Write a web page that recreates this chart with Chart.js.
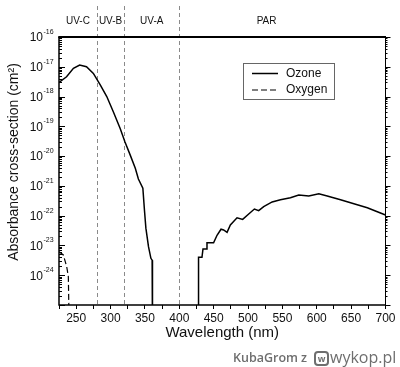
<!DOCTYPE html>
<html lang="en">
<head>
<meta charset="utf-8">
<title>Absorbance cross-section</title>
<script src="https://cdn.jsdelivr.net/npm/chart.js@4.4.1/dist/chart.umd.min.js"></script>
<style>
    html, body { margin: 0; padding: 0; background: #fff; }
    #contenedor { position: relative; width: 400px; height: 367px; }
    #marca span { position: absolute; color: #6e6e6e; font-family: 'Open Sans', 'Liberation Sans', sans-serif; white-space: nowrap; }
    #marca .autor { left: 233px; top: 349px; font-size: 12.5px; font-weight: 600; }
    #marca .z { left: 301px; top: 349px; font-size: 12.5px; font-weight: 600; }
    #marca .logo { left: 314px; top: 351px; width: 11px; height: 11px; border: 2px solid #6e6e6e; border-radius: 4px; font-size: 9px; line-height: 11px; text-align: center; font-weight: 700; }
    #marca .sitio { left: 330px; top: 346px; font-size: 16px; }
</style>
</head>
<body>
<div id="contenedor">
    <canvas id="grafico"></canvas>
    <div id="marca"><span class="autor">KubaGrom</span><span class="z">z</span><span class="logo">w</span><span class="sitio">wykop.pl</span></div>
</div>
<script>
// Datos - sección eficaz de absorción (cm²)
var longitudesOzono = [225, 236, 246, 255, 265, 275, 285, 294.5, 304, 314, 321, 328.5, 336, 340.5, 347, 349.3, 351.4, 355.2, 358.7, 360.5, 361,
    395,
    428, 428, 433, 434.5, 439.3, 440.3, 449.9, 454.9, 460.7, 464.5, 469.5, 474.3, 484, 492.2, 501, 509.3, 515.5, 522.8, 535.1, 547.2,
    561.7, 573.8, 588.4, 603, 615.2, 634.6, 654, 673.5, 688.1, 700];
var valoresOzono = [3.0e-18, 4.6e-18, 8.9e-18, 1.15e-17, 1.0e-17, 6.0e-18, 2.45e-18, 1.0e-18, 3.1e-19, 8.5e-20, 3.0e-20, 1.1e-20, 3.9e-21, 1.7e-21, 8.3e-22, 1.55e-22, 3.8e-23, 9.1e-24, 3.7e-24, 3.2e-24, 1e-26,
    null,
    1e-26, 4.0e-24, 4.0e-24, 7.6e-24, 7.6e-24, 1.23e-23, 1.23e-23, 2.2e-23, 3.5e-23, 3.3e-23, 2.75e-23, 4.9e-23, 8.5e-23, 7.5e-23, 1.14e-22, 1.67e-22, 1.47e-22, 2.0e-22, 2.9e-22, 3.4e-22,
    4.0e-22, 4.9e-22, 4.6e-22, 5.4e-22, 4.6e-22, 3.4e-22, 2.5e-22, 1.85e-22, 1.36e-22, 1.05e-22];

var longitudesOxigeno = [225, 231.3, 236.2, 238.6, 240];
var valoresOxigeno = [6.2e-24, 4.8e-24, 1.95e-24, 8.9e-25, 1e-26];

// Bandas espectrales (nm)
var bordesBandas = [280, 320, 400];
var nombresBandas = ['UV-C', 'UV-B', 'UV-A', 'PAR'];
var centrosBandas = [252.5, 300, 360, 527];

// Etiquetas del eje Y (exponentes de 10)
var exponentesY = [-16, -17, -18, -19, -20, -21, -22, -23, -24];

var FUENTE = "'Liberation Sans', Arial, sans-serif";

function aPuntos(xs, ys) {
    return xs.map(function(x, i) { return { x: x, y: ys[i] }; });
}

// Plugin para marco, ticks del eje log, etiquetas y leyenda
var pluginDecoracion = {
    id: 'decoracion',
    beforeDatasetsDraw: function(chart) {
        var ctx = chart.ctx, a = chart.chartArea, x = chart.scales.x;
        ctx.save();
        ctx.strokeStyle = '#8a8a8a';
        ctx.lineWidth = 1;
        ctx.setLineDash([4, 3]);
        bordesBandas.forEach(function(b) {
            var px = Math.round(x.getPixelForValue(b)) + 0.5;
            ctx.beginPath();
            ctx.moveTo(px, 6);
            ctx.lineTo(px, a.bottom);
            ctx.stroke();
        });
        ctx.restore();
    },
    afterDraw: function(chart) {
        var ctx = chart.ctx, a = chart.chartArea, x = chart.scales.x, y = chart.scales.y;
        ctx.save();
        ctx.strokeStyle = '#000';

        // Marco
        ctx.lineWidth = 2;
        ctx.beginPath(); ctx.moveTo(a.left - 0.75, a.top); ctx.lineTo(a.right + 0.5, a.top); ctx.stroke();
        ctx.lineWidth = 1.5;
        ctx.beginPath(); ctx.moveTo(a.left, a.top); ctx.lineTo(a.left, a.bottom); ctx.lineTo(a.right, a.bottom); ctx.stroke();
        ctx.lineWidth = 1;
        ctx.beginPath(); ctx.moveTo(a.right, a.top); ctx.lineTo(a.right, a.bottom); ctx.stroke();

        // Ticks menores y mayores del eje logarítmico
        ctx.lineWidth = 1;
        for (var e = -25; e <= -16; e++) {
            for (var m = 1; m <= 9; m++) {
                if (e === -16 && m > 1) break;
                var py = Math.round(y.getPixelForValue(m * Math.pow(10, e))) + 0.5;
                var largo = m === 1 ? 6 : 3;
                ctx.beginPath();
                ctx.moveTo(a.left, py); ctx.lineTo(a.left + largo, py);
                ctx.moveTo(a.right, py); ctx.lineTo(a.right + largo - 1, py);
                ctx.stroke();
            }
        }

        // Etiquetas 10^n
        ctx.fillStyle = '#111';
        exponentesY.forEach(function(ex) {
            var py = y.getPixelForValue(Math.pow(10, ex));
            ctx.font = '12px ' + FUENTE;
            ctx.textAlign = 'right';
            ctx.textBaseline = 'middle';
            ctx.fillText('10', 43, py + 1);
            ctx.font = '7px ' + FUENTE;
            ctx.textAlign = 'left';
            ctx.fillText(String(ex), 43.5, py - 5);
        });

        // Título del eje Y
        ctx.save();
        ctx.translate(14, 162);
        ctx.rotate(-Math.PI / 2);
        ctx.font = '14px ' + FUENTE;
        ctx.textAlign = 'center';
        ctx.textBaseline = 'middle';
        ctx.fillText('Absorbance cross-section (cm²)', 0, 0);
        ctx.restore();

        // Nombres de las bandas
        ctx.font = '10px ' + FUENTE;
        ctx.textAlign = 'center';
        ctx.textBaseline = 'middle';
        nombresBandas.forEach(function(n, i) {
            ctx.fillText(n, x.getPixelForValue(centrosBandas[i]), 21);
        });

        // Leyenda
        ctx.strokeStyle = '#666';
        ctx.lineWidth = 1;
        ctx.strokeRect(243.5, 63.5, 91, 36);
        chart.data.datasets.forEach(function(ds, i) {
            var ly = 73.5 + i * 16.5;
            ctx.strokeStyle = '#000';
            ctx.lineWidth = ds.borderWidth;
            ctx.setLineDash(ds.borderDash || []);
            ctx.beginPath(); ctx.moveTo(252, ly); ctx.lineTo(278, ly); ctx.stroke();
            ctx.setLineDash([]);
            ctx.font = '12px ' + FUENTE;
            ctx.textAlign = 'left';
            ctx.fillText(ds.label, 286, ly);
        });
        ctx.restore();
    }
};

document.addEventListener('DOMContentLoaded', function() {
    var ctx = document.getElementById('grafico');

    new Chart(ctx, {
        type: 'scatter',
        data: {
            datasets: [{
                label: 'Ozone',
                data: aPuntos(longitudesOzono, valoresOzono),
                showLine: true,
                borderColor: '#000',
                borderWidth: 1.5,
                pointRadius: 0,
                tension: 0,
                spanGaps: false
            }, {
                label: 'Oxygen',
                data: aPuntos(longitudesOxigeno, valoresOxigeno),
                showLine: true,
                borderColor: '#000',
                borderWidth: 1.2,
                borderDash: [6, 3],
                pointRadius: 0,
                tension: 0
            }]
        },
        options: {
            responsive: true,
            maintainAspectRatio: false,
            animation: false,
            layout: { padding: { top: 37, right: 14.5, left: 0, bottom: 0 } },
            plugins: {
                legend: { display: false },
                tooltip: { enabled: false }
            },
            scales: {
                x: {
                    type: 'linear',
                    min: 225,
                    max: 700,
                    afterFit: function(s) { s.height = 62; },
                    border: { display: false },
                    grid: { drawOnChartArea: false, drawTicks: true, tickLength: 4, color: '#000', lineWidth: 1 },
                    ticks: {
                        stepSize: 25,
                        autoSkip: false,
                        maxRotation: 0,
                        padding: 2,
                        color: '#111',
                        font: { family: FUENTE, size: 12 },
                        callback: function(v) { return v % 50 === 0 ? v : ''; }
                    },
                    title: {
                        display: true,
                        text: 'Wavelength (nm)',
                        color: '#111',
                        font: { family: FUENTE, size: 15 },
                        padding: { top: 0, bottom: 25 }
                    }
                },
                y: {
                    type: 'logarithmic',
                    min: 1e-25,
                    max: 1e-16,
                    afterFit: function(s) { s.width = 59; },
                    border: { display: false },
                    grid: { display: false, drawTicks: false },
                    ticks: { display: false }
                }
            }
        },
        plugins: [pluginDecoracion]
    });
});
</script>
</body>
</html>
